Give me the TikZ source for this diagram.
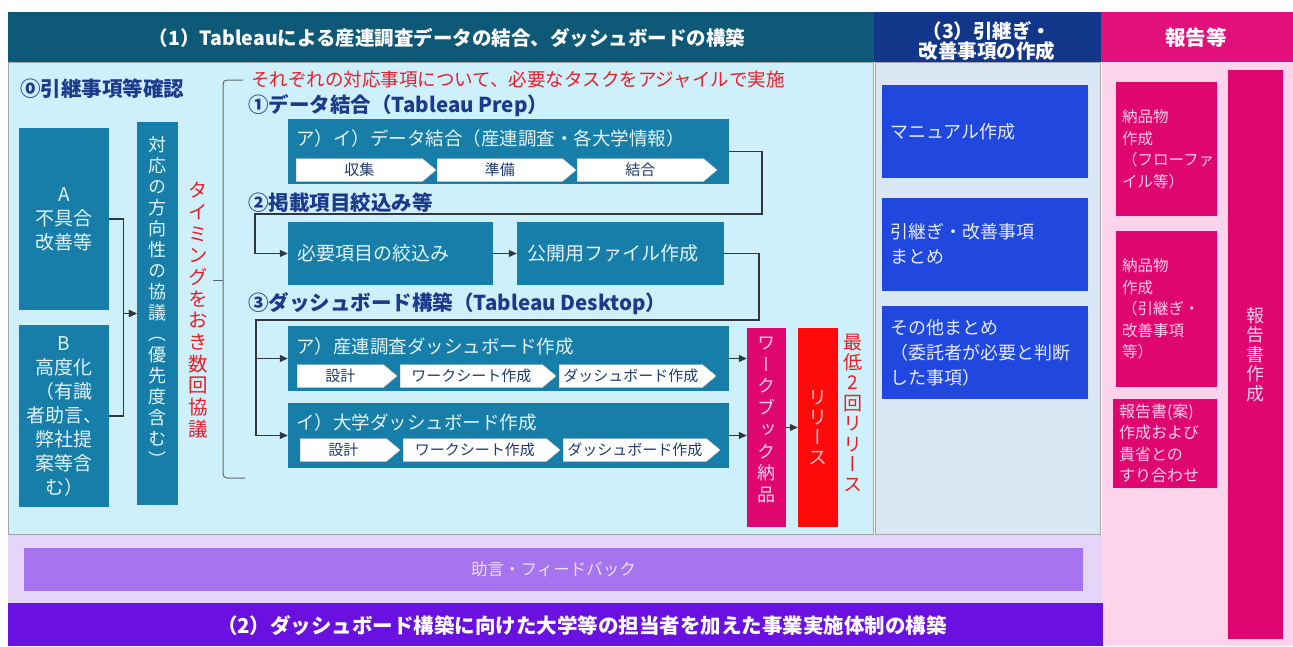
\documentclass[tikz,border=0pt]{standalone}
\usepackage{fontspec}
\setmainfont{Noto Sans CJK JP}
\newfontfamily\jpv[RawFeature=+vert]{Noto Sans CJK JP}
\usetikzlibrary{arrows.meta,shapes.symbols}

\newcommand\fsz[2]{\fontsize{#1}{#2}\selectfont}

\definecolor{hdrteal}{RGB}{14,88,120}
\definecolor{boxteal}{RGB}{22,126,168}
\definecolor{bgcyan}{RGB}{206,240,251}
\definecolor{navy}{RGB}{28,58,140}
\definecolor{hdrnavy}{RGB}{18,54,138}
\definecolor{bgblue}{RGB}{219,230,245}
\definecolor{boxblue}{RGB}{32,72,222}
\definecolor{hdrpink}{RGB}{226,16,122}
\definecolor{boxpink}{RGB}{224,6,112}
\definecolor{bgpink}{RGB}{253,212,236}
\definecolor{bglav}{RGB}{229,213,248}
\definecolor{barlav}{RGB}{166,116,238}
\definecolor{hdrpurple}{RGB}{106,16,224}
\definecolor{relred}{RGB}{255,10,10}
\definecolor{txtred}{RGB}{232,30,40}
\definecolor{lnk}{RGB}{50,55,60}
\definecolor{tlight}{RGB}{228,246,252}
\definecolor{blight}{RGB}{232,236,255}
\definecolor{plight}{RGB}{255,210,235}
\definecolor{llight}{RGB}{236,226,255}
\definecolor{rlight}{RGB}{255,200,210}
\definecolor{chevtxt}{RGB}{30,60,110}

\tikzset{
  panel/.style={draw=gray!70, line width=0.8pt},
  hdrtext/.style={text=white, inner sep=0pt, font=\bfseries\fsz{19.5}{21}},
  navyhd/.style={text=navy, inner sep=0pt, anchor=west, font=\bfseries\fsz{20.5}{22}},
  tbox/.style={fill=boxteal, text=tlight, inner sep=0pt},
  ttitle/.style={text=tlight, inner sep=0pt, anchor=west, font=\fsz{18.5}{20}},
  chev/.style={signal, signal to=east, signal pointer angle=80, draw=gray!60,
    fill=white, text=chevtxt, font=\fsz{15}{16}, minimum height=23,
    minimum width=#1, inner sep=0pt, anchor=west},
  bbox/.style={fill=boxblue, text=blight, align=left, inner xsep=8pt,
    text width=190, minimum height=93, font=\fsz{18}{25}},
  pbox/.style={fill=boxpink, text=plight, align=left, inner xsep=6pt,
    font=\fsz{15.5}{21.5}},
  conn/.style={draw=lnk, line width=1.1pt, -{Triangle[length=8pt,width=7pt]}},
  brk/.style={draw=gray!80!black, line width=1pt, rounded corners=4pt}
}

\begin{document}
\begin{tikzpicture}[x=1pt, y=-1pt]
\useasboundingbox (0,0) rectangle (1293,646);
\fill[white] (0,0) rectangle (1293,646);

% panels
\fill[bgcyan] (8,62) rectangle (873,534);
\fill[bgblue] (875,62) rectangle (1100,534);
\draw[panel] (8,62) rectangle (873,534);
\draw[panel] (875,62) rectangle (1100,534);
\fill[bgpink] (1102,62) rectangle (1293,646);
\fill[bglav] (8,535) rectangle (1102,603);
\fill[hdrpurple] (8,603) rectangle (1103,646);
\fill[hdrteal] (8,12) rectangle (874,62);
\fill[hdrnavy] (874,12) rectangle (1101,62);
\fill[hdrpink] (1101,12) rectangle (1293,62);

% headers
\node[hdrtext] (hdrone) at (447,38) {（1）Tableauによる産連調査データの結合、ダッシュボードの構築};
\node[hdrtext, align=center, font=\bfseries\fsz{19.5}{19}] (hdrthree) at (987,41) {（3）引継ぎ・\\改善事項の作成};
\node[hdrtext, font=\bfseries\fsz{20.5}{21}] (hdrrep) at (1196,38) {報告等};

% (0)
\node[navyhd] (step0) at (20,89) {⓪引継事項等確認};
\node[tbox, align=center, font=\fsz{19}{24}, minimum width=90, minimum height=182] (boxA) at (64,219) {A\\不具合\\改善等};
\node[tbox, align=center, font=\fsz{19}{24}, minimum width=90, minimum height=182] (boxB) at (64,416) {B\\高度化\\（有識\\者助言、\\弊社提\\案等含\\む）};
\node[tbox, minimum width=41, minimum height=383] (kyogi) at (157.5,313.5) {};
\node[text=tlight, align=center, inner sep=0pt, font=\jpv\fsz{18}{21}] (kyogiT) at (157.5,301)
  {対\\応\\の\\方\\向\\性\\の\\協\\議\\（\\優\\先\\度\\含\\む\\）};
\node[text=txtred, align=center, inner sep=0pt, font=\jpv\fsz{19.5}{21.7}] (timing) at (198,310)
  {タ\\イ\\ミ\\ン\\グ\\を\\お\\き\\数\\回\\協\\議};
\draw[conn] (boxA.east) -- ++(14,0) |- (kyogi.west);
\draw[conn] (boxB.east) -- ++(14,0) |- (kyogi.west);

% bracket
\draw[brk] (243,80) -- (223,80) -- (223,478) -- (245,478);
\draw[brk] (223,280) -- (213,280);

\node[text=txtred, inner sep=0pt, anchor=west, font=\fsz{18.5}{20}] (agile) at (251,80)
  {それぞれの対応事項について、必要なタスクをアジャイルで実施};

% (1) data
\node[navyhd] (step1) at (248,106) {①データ結合（Tableau Prep）};
\node[tbox, minimum width=441, minimum height=65] (data) at (508.5,151.5) {};
\node[ttitle] (dataT) at (296,138) {ア）イ）データ結合（産連調査・各大学情報）};
\node[chev=140] (d1) at (296,170) {収集};
\node[chev=139] (d2) at (437,170) {準備};
\node[chev=140] (d3) at (577,170) {結合};

% (2) items
\node[navyhd] (step2) at (248,203) {②掲載項目絞込み等};
\node[tbox, align=left, text width=187, inner xsep=9pt, minimum height=63, font=\fsz{19}{20}] (narrow) at (390.5,253.5) {必要項目の絞込み};
\node[tbox, align=left, text width=187, inner xsep=10pt, minimum height=63, font=\fsz{19}{20}] (pub) at (620.5,253.5) {公開用ファイル作成};
\coordinate (j1) at (762,214);
\coordinate (j2) at (255,214);
\draw[conn] (data.east) -| (j1) -- (j2) |- (narrow.west);
\draw[conn] (narrow.east) -- (pub.west);

% (3) dashboards
\node[navyhd] (step3) at (248,304) {③ダッシュボード構築（Tableau Desktop）};
\node[tbox, minimum width=441, minimum height=65] (dashA) at (508.5,358.5) {};
\node[ttitle] (dashAT) at (296,346) {ア）産連調査ダッシュボード作成};
\node[chev=100] (a1) at (297,376) {設計};
\node[chev=156] (a2) at (400,376) {ワークシート作成};
\node[chev=157] (a3) at (559,376) {ダッシュボード作成};
\node[tbox, minimum width=441, minimum height=65] (dashB) at (508.5,435.5) {};
\node[ttitle] (dashBT) at (296,422) {イ）大学ダッシュボード作成};
\node[chev=100] (b1) at (300,450) {設計};
\node[chev=157] (b2) at (403,450) {ワークシート作成};
\node[chev=157] (b3) at (563,450) {ダッシュボード作成};
\coordinate (j3) at (759,320);
\coordinate (j4) at (256,320);
\draw[conn] (pub.east) -| (j3) -- (j4) |- (dashA.west);
\draw[conn] (j4) |- (dashB.west);

% release
\node[fill=boxpink, minimum width=39, minimum height=199] (wb) at (766.5,427.5) {};
\node[text=plight, align=center, inner sep=0pt, font=\jpv\fsz{18}{21.7}] (wbT) at (766.5,420)
  {ワ\\ー\\ク\\ブ\\ッ\\ク\\納\\品};
\node[fill=relred, text=rlight, align=center, inner sep=0pt, minimum width=40, minimum height=199, font=\jpv\fsz{19}{20}] (rel) at (818,427.5)
  {リ\\リ\\ー\\ス};
\node[text=txtred, align=center, inner sep=0pt, font=\jpv\fsz{19}{20.4}] (min2) at (853,413)
  {最\\低\\2\\回\\リ\\リ\\ー\\ス};
\draw[conn] (dashA.east) -- (dashA.east -| wb.west);
\draw[conn] (dashB.east) -- (dashB.east -| wb.west);
\draw[conn] (wb.east) -- (rel.west);

% (3) hand-over
\node[bbox] (manual) at (985,131.5) {マニュアル作成};
\node[bbox] (handover) at (985,244) {引継ぎ・改善事項\\まとめ};
\node[bbox] (other) at (985,352.5) {その他まとめ\\（委託者が必要と判断\\した事項）};

% report
\node[pbox, text width=89, minimum height=134] (deliv1) at (1166.5,149) {納品物\\作成\\（フローファ\\イル等）};
\node[pbox, text width=89, minimum height=156] (deliv2) at (1166.5,309) {納品物\\作成\\（引継ぎ・\\改善事項\\等）};
\node[pbox, text width=92, minimum height=89, font=\fsz{16}{21.5}] (draft) at (1165,443.5) {報告書(案)\\作成および\\貴省との\\すり合わせ};
\node[fill=boxpink, text=plight, align=center, inner sep=0pt, minimum width=55, minimum height=569, font=\jpv\fsz{18}{19.5}] (report) at (1255.5,354.5)
  {報\\告\\書\\作\\成};

% (2) bottom
\node[fill=barlav, text=llight, minimum width=1059, minimum height=43, inner sep=0pt, font=\fsz{16.5}{20}] (advice) at (553.5,569.5) {助言・フィードバック};
\node[hdrtext, font=\bfseries\fsz{20.5}{22}] (hdrtwo) at (582,626) {（2）ダッシュボード構築に向けた大学等の担当者を加えた事業実施体制の構築};
\end{tikzpicture}
\end{document}
